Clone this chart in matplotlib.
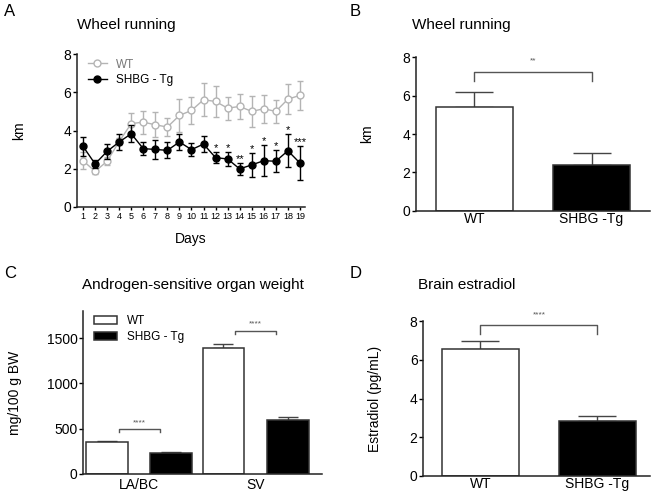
import matplotlib
matplotlib.use("Agg")
import matplotlib.pyplot as plt
from matplotlib.lines import Line2D
import numpy as np

plt.rcParams['font.family'] = ['Liberation Sans', 'DejaVu Sans']

# ---- data ---------------------------------------------------------------

days = list(range(1, 20))
wt_km = [2.42, 1.86, 2.39, 3.43, 4.36, 4.44, 4.30, 4.18, 4.79, 5.05,
         5.61, 5.52, 5.17, 5.26, 5.00, 5.14, 5.00, 5.64, 5.84]
wt_err = [0.45, 0.15, 0.20, 0.20, 0.55, 0.60, 0.65, 0.45, 0.87, 0.72,
          0.87, 0.82, 0.60, 0.65, 0.80, 0.73, 0.60, 0.80, 0.77]
tg_km = [3.17, 2.25, 2.91, 3.40, 3.83, 3.05, 3.01, 2.96, 3.40, 3.00,
         3.29, 2.58, 2.51, 1.99, 2.20, 2.42, 2.39, 2.94, 2.30]
tg_err = [0.50, 0.20, 0.40, 0.40, 0.45, 0.35, 0.50, 0.42, 0.42, 0.35,
          0.43, 0.30, 0.35, 0.30, 0.62, 0.80, 0.57, 0.87, 0.87]
day_stars = {12: '*', 13: '*', 14: '**', 15: '*', 16: '*', 17: '*', 18: '*', 19: '***'}

groups = ['WT', 'SHBG -Tg']
wheel_mean = [5.43, 2.40]
wheel_err = [0.76, 0.60]

organs = ['LA/BC', 'SV']
organ_wt = [349, 1392]
organ_wt_err = [11, 45]
organ_tg = [234, 601]
organ_tg_err = [7, 30]

estradiol_mean = [6.54, 2.86]
estradiol_err = [0.43, 0.22]

EDGE = '#333333'
GREY = '#b4b4b4'


def style_axes(ax, yticks):
    for s in ('top', 'right'):
        ax.spines[s].set_visible(False)
    for s in ('left', 'bottom'):
        ax.spines[s].set_linewidth(1.1)
        ax.spines[s].set_color('#222222')
    ax.set_yticks(yticks)
    ax.tick_params(length=3, width=1, labelsize=10, pad=1)


def bracket(ax, x0, x1, y, drop, text, fs=6):
    ax.plot([x0, x0, x1, x1], [y - drop, y, y, y - drop], color='#555555', lw=1)
    ax.text((x0 + x1) / 2, y + drop * 0.9, text, ha='center', va='bottom',
            fontsize=fs, color='#555555')


def two_bars(ax, means, errs, cap, pad):
    x = np.arange(len(means))
    ax.bar(x, means, width=0.66, color=['white', 'black'], edgecolor=EDGE,
           linewidth=1.1, zorder=2)
    ax.errorbar(x, means, yerr=[np.zeros(len(errs)), errs], fmt='none',
                ecolor='#444444', elinewidth=1, capsize=cap, capthick=1, zorder=1)
    ax.set_xticks(x)
    ax.set_xticklabels(groups, fontsize=10)
    ax.tick_params(axis='x', length=0, pad=pad)


fig = plt.figure(figsize=(6.6, 5.01), dpi=100)

# ---- A ------------------------------------------------------------------
axA = fig.add_axes([0.1167, 0.587, 0.345, 0.305])
axA.errorbar(days, wt_km, yerr=wt_err, color=GREY, ecolor=GREY, marker='o',
             mfc='white', mec=GREY, ms=5, lw=1, elinewidth=1, capsize=2.5, zorder=2)
axA.errorbar(days, tg_km, yerr=tg_err, color='black', ecolor='black', marker='o',
             mfc='black', mec='black', ms=5, lw=1, elinewidth=1, capsize=2.5, zorder=3)
for d, s in day_stars.items():
    i = days.index(d)
    axA.text(d, tg_km[i] + tg_err[i] - 0.05, s, ha='center', va='bottom', fontsize=8)
axA.set_xlim(0.5, 19.4)
axA.set_ylim(0, 8)
style_axes(axA, [0, 2, 4, 6, 8])
axA.set_xticks(days)
axA.tick_params(axis='x', labelsize=6.5, length=2.5)
axA.set_xlabel('Days', fontsize=10, labelpad=8)
axA.set_ylabel('km', fontsize=10, va='center')
axA.yaxis.set_label_coords(-58 / 228, 0.5)
handles = [Line2D([], [], color=GREY, marker='o', mfc='white', mec=GREY, ms=5, lw=1),
           Line2D([], [], color='black', marker='o', mfc='black', mec='black', ms=5, lw=1)]
leg = axA.legend(handles, ['WT', 'SHBG - Tg'], loc='upper left',
                 bbox_to_anchor=(0.0, 1.04), frameon=False, fontsize=8.5,
                 handlelength=1.6, handletextpad=0.8, labelspacing=0.3)
for t, c in zip(leg.get_texts(), ['#777777', 'black']):
    t.set_color(c)

# ---- B ------------------------------------------------------------------
axB = fig.add_axes([0.630, 0.579, 0.355, 0.307])
two_bars(axB, wheel_mean, wheel_err, 14, 9)
axB.set_xlim(-0.5, 1.5)
axB.set_ylim(0, 8)
style_axes(axB, [0, 2, 4, 6, 8])
axB.tick_params(axis='x', length=0)
axB.set_ylabel('km', fontsize=10, labelpad=20)
bracket(axB, 0, 1, 7.22, 0.45, '**')

# ---- C ------------------------------------------------------------------
axC = fig.add_axes([0.126, 0.054, 0.362, 0.325])
xc = np.arange(len(organs))
off = 0.276
axC.bar(xc - off, organ_wt, width=0.36, color='white', edgecolor=EDGE,
        linewidth=1.1, zorder=2, label='WT')
axC.bar(xc + off, organ_tg, width=0.36, color='black', edgecolor=EDGE,
        linewidth=1.1, zorder=2, label='SHBG - Tg')
axC.errorbar(xc - off, organ_wt, yerr=[np.zeros(2), organ_wt_err], fmt='none',
             ecolor='#444444', elinewidth=1, capsize=7, zorder=1)
axC.errorbar(xc + off, organ_tg, yerr=[np.zeros(2), organ_tg_err], fmt='none',
             ecolor='#444444', elinewidth=1, capsize=7, zorder=1)
axC.set_xlim(-0.48, 1.57)
axC.set_ylim(0, 1800)
style_axes(axC, [0, 500, 1000, 1500])
axC.set_xticks(xc)
axC.set_xticklabels(organs, fontsize=10)
axC.tick_params(axis='x', length=0, pad=3)
axC.set_ylabel('mg/100 g BW', fontsize=10, labelpad=18)
bracket(axC, 0 - off + 0.1, 0 + off - 0.1, 497, 37, '****')
bracket(axC, 1 - off + 0.1, 1 + off - 0.1, 1585, 37, '****')
axC.legend(loc='upper left', bbox_to_anchor=(0.0, 1.04), frameon=False,
           fontsize=8.5, handlelength=2.0, handleheight=0.7, handletextpad=0.8,
           labelspacing=0.3)

# ---- D ------------------------------------------------------------------
axD = fig.add_axes([0.641, 0.050, 0.344, 0.309])
two_bars(axD, estradiol_mean, estradiol_err, 14, 6)
axD.set_xlim(-0.49, 1.45)
axD.set_ylim(0, 8)
style_axes(axD, [0, 2, 4, 6, 8])
axD.tick_params(axis='x', length=0)
axD.set_ylabel('Estradiol (pg/mL)', fontsize=10, labelpad=20)
bracket(axD, 0, 1, 7.78, 0.43, '****')

# ---- titles & panel letters ---------------------------------------------
fig.text(77 / 660, 1 - 25 / 501, 'Wheel running', fontsize=11, va='center')
fig.text(412 / 660, 1 - 25 / 501, 'Wheel running', fontsize=11, va='center')
fig.text(82 / 660, 1 - 285 / 501, 'Androgen-sensitive organ weight', fontsize=11, va='center')
fig.text(418 / 660, 1 - 285 / 501, 'Brain estradiol', fontsize=11, va='center')
for lx, ly, s in [(4, 12, 'A'), (350, 12, 'B'), (4, 273, 'C'), (350, 273, 'D')]:
    fig.text(lx / 660, 1 - ly / 501, s, fontsize=12, va='center')

fig.savefig('out.png', dpi=100)
